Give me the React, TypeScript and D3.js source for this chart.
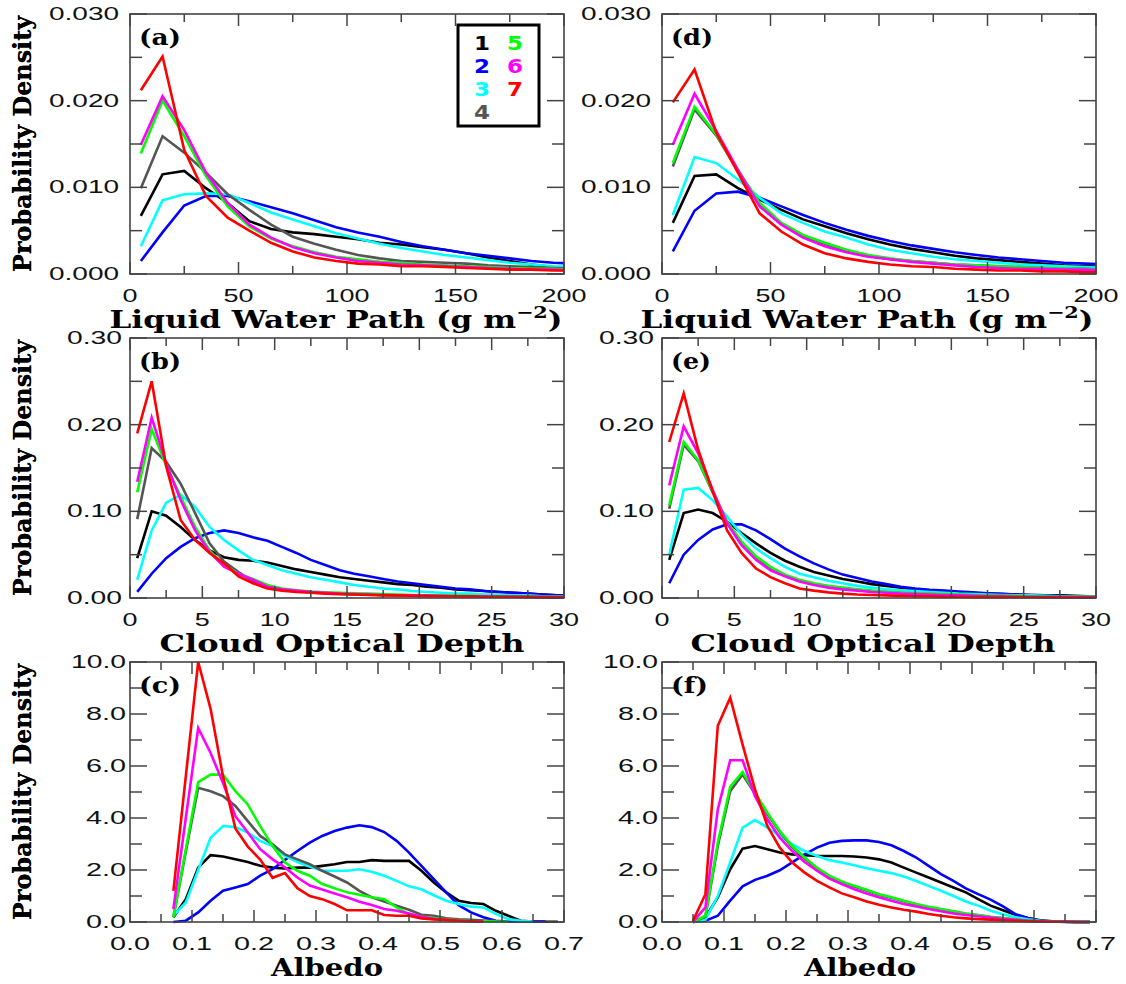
import React from 'react';
import * as d3 from 'd3';

// ---------------- DATA ----------------
const seriesNames = ['1', '2', '3', '4', '5', '6', '7'];
const seriesColors = ['#000000', '#0000ff', '#00ffff', '#555555', '#00ff00', '#ff00ff', '#ff0000'];

const lwpBins = [5, 15, 25, 35, 45, 55, 65, 75, 85, 95, 105, 115, 125, 135, 145, 155, 165, 175, 185, 195, 205];
const codBins = [0.5, 1.5, 2.5, 3.5, 4.5, 5.5, 6.5, 7.5, 8.5, 9.5, 10.5, 11.5, 12.5, 13.5, 14.5, 15.5, 16.5, 17.5, 18.5, 19.5, 20.5, 21.5, 22.5, 23.5, 24.5, 25.5, 26.5, 27.5, 28.5, 29.5, 30.5];
const albedoBinsC = [0.07, 0.09, 0.11, 0.13, 0.15, 0.17, 0.19, 0.21, 0.23, 0.25, 0.27, 0.29, 0.31, 0.33, 0.35, 0.37, 0.39, 0.41, 0.43, 0.45, 0.47, 0.49, 0.51, 0.53, 0.55, 0.57, 0.59, 0.61, 0.63, 0.65, 0.67, 0.69];
const albedoBinsF = [0.05, 0.07, 0.09, 0.11, 0.13, 0.15, 0.17, 0.19, 0.21, 0.23, 0.25, 0.27, 0.29, 0.31, 0.33, 0.35, 0.37, 0.39, 0.41, 0.43, 0.45, 0.47, 0.49, 0.51, 0.53, 0.55, 0.57, 0.59, 0.61, 0.63, 0.65, 0.67, 0.69];

// (a) LWP, left column
const a1 = [0.0067, 0.0115, 0.0119, 0.0099, 0.0082, 0.0061, 0.0052, 0.0048, 0.0046, 0.0043, 0.0040, 0.0036, 0.0034, 0.0031, 0.0028, 0.0024, 0.0019, 0.0015, 0.0011, 0.0008, 0.0007];
const a2 = [0.0015, 0.0048, 0.0079, 0.0090, 0.0090, 0.0084, 0.0077, 0.0070, 0.0062, 0.0054, 0.0048, 0.0043, 0.0037, 0.0032, 0.0028, 0.0024, 0.0021, 0.0018, 0.0015, 0.0013, 0.0012];
const a3 = [0.0032, 0.0085, 0.0092, 0.0093, 0.0092, 0.0082, 0.0071, 0.0063, 0.0055, 0.0047, 0.0041, 0.0035, 0.0030, 0.0026, 0.0022, 0.0019, 0.0016, 0.0013, 0.0011, 0.0009, 0.0008];
const a4 = [0.0099, 0.0159, 0.0140, 0.0117, 0.0092, 0.0074, 0.0057, 0.0043, 0.0035, 0.0028, 0.0022, 0.0018, 0.0015, 0.0014, 0.0013, 0.0012, 0.0010, 0.0009, 0.0008, 0.0007, 0.0006];
const a5 = [0.0139, 0.0200, 0.0159, 0.0113, 0.0078, 0.0055, 0.0041, 0.0032, 0.0025, 0.0020, 0.0017, 0.0014, 0.0013, 0.0011, 0.0010, 0.0009, 0.0008, 0.0007, 0.0006, 0.0006, 0.0005];
const a6 = [0.0149, 0.0205, 0.0166, 0.0117, 0.0082, 0.0057, 0.0042, 0.0031, 0.0024, 0.0019, 0.0015, 0.0013, 0.0011, 0.0010, 0.0009, 0.0008, 0.0007, 0.0006, 0.0005, 0.0005, 0.0004];
const a7 = [0.0212, 0.0251, 0.0143, 0.0090, 0.0065, 0.0050, 0.0036, 0.0026, 0.0019, 0.0015, 0.0012, 0.0011, 0.0009, 0.0009, 0.0008, 0.0007, 0.0006, 0.0005, 0.0005, 0.0004, 0.0004];

// (d) LWP, right column
const d1 = [0.0059, 0.0113, 0.0115, 0.0099, 0.0086, 0.0074, 0.0063, 0.0055, 0.0047, 0.0040, 0.0034, 0.0029, 0.0025, 0.0021, 0.0018, 0.0016, 0.0014, 0.0012, 0.0010, 0.0009, 0.0008];
const d2 = [0.0026, 0.0073, 0.0093, 0.0095, 0.0088, 0.0078, 0.0068, 0.0059, 0.0051, 0.0044, 0.0038, 0.0033, 0.0029, 0.0025, 0.0022, 0.0019, 0.0017, 0.0015, 0.0013, 0.0012, 0.0011];
const d3s = [0.0068, 0.0135, 0.0128, 0.0109, 0.0088, 0.0070, 0.0059, 0.0049, 0.0042, 0.0034, 0.0028, 0.0024, 0.0020, 0.0017, 0.0015, 0.0013, 0.0011, 0.0010, 0.0009, 0.0008, 0.0007];
const d4 = [0.0124, 0.0190, 0.0160, 0.0119, 0.0081, 0.0058, 0.0044, 0.0035, 0.0027, 0.0021, 0.0017, 0.0015, 0.0013, 0.0011, 0.0010, 0.0009, 0.0008, 0.0007, 0.0006, 0.0006, 0.0005];
const d5 = [0.0128, 0.0193, 0.0161, 0.0120, 0.0082, 0.0059, 0.0045, 0.0036, 0.0028, 0.0022, 0.0018, 0.0015, 0.0013, 0.0011, 0.0010, 0.0009, 0.0008, 0.0007, 0.0006, 0.0006, 0.0005];
const d6 = [0.0149, 0.0208, 0.0165, 0.0120, 0.0078, 0.0057, 0.0042, 0.0032, 0.0025, 0.0020, 0.0017, 0.0014, 0.0012, 0.0010, 0.0008, 0.0007, 0.0006, 0.0006, 0.0005, 0.0005, 0.0004];
const d7 = [0.0198, 0.0236, 0.0163, 0.0117, 0.0070, 0.0049, 0.0034, 0.0024, 0.0018, 0.0014, 0.0011, 0.0009, 0.0008, 0.0006, 0.0005, 0.0004, 0.0004, 0.0003, 0.0003, 0.0002, 0.0002];

// (b) COD, left column
const b1 = [0.046, 0.100, 0.095, 0.082, 0.067, 0.055, 0.047, 0.044, 0.043, 0.041, 0.037, 0.033, 0.030, 0.027, 0.024, 0.022, 0.020, 0.018, 0.016, 0.015, 0.013, 0.012, 0.010, 0.009, 0.008, 0.007, 0.006, 0.005, 0.004, 0.003, 0.003];
const b2 = [0.007, 0.028, 0.046, 0.059, 0.069, 0.075, 0.078, 0.075, 0.070, 0.066, 0.059, 0.052, 0.044, 0.038, 0.032, 0.028, 0.025, 0.022, 0.019, 0.017, 0.015, 0.013, 0.011, 0.010, 0.008, 0.007, 0.006, 0.005, 0.004, 0.003, 0.003];
const b3 = [0.021, 0.078, 0.110, 0.119, 0.105, 0.082, 0.067, 0.055, 0.044, 0.038, 0.032, 0.028, 0.024, 0.021, 0.018, 0.015, 0.013, 0.011, 0.010, 0.008, 0.007, 0.006, 0.005, 0.005, 0.004, 0.004, 0.003, 0.003, 0.002, 0.002, 0.002];
const b4 = [0.091, 0.173, 0.157, 0.132, 0.098, 0.063, 0.042, 0.030, 0.019, 0.013, 0.010, 0.008, 0.007, 0.006, 0.005, 0.0045, 0.004, 0.0035, 0.003, 0.003, 0.0025, 0.0025, 0.002, 0.002, 0.002, 0.0015, 0.0015, 0.0015, 0.001, 0.001, 0.001];
const b5 = [0.122, 0.195, 0.153, 0.117, 0.082, 0.055, 0.038, 0.028, 0.022, 0.015, 0.011, 0.009, 0.0075, 0.0065, 0.006, 0.0055, 0.005, 0.0045, 0.004, 0.0035, 0.003, 0.003, 0.0025, 0.0025, 0.002, 0.002, 0.002, 0.0015, 0.0015, 0.0015, 0.0015];
const b6 = [0.134, 0.208, 0.155, 0.113, 0.078, 0.053, 0.036, 0.028, 0.021, 0.013, 0.010, 0.0085, 0.007, 0.006, 0.005, 0.0045, 0.004, 0.0035, 0.003, 0.003, 0.0025, 0.0025, 0.002, 0.002, 0.002, 0.0015, 0.0015, 0.0015, 0.001, 0.001, 0.001];
const b7 = [0.190, 0.250, 0.152, 0.090, 0.067, 0.052, 0.040, 0.025, 0.017, 0.011, 0.0085, 0.007, 0.006, 0.005, 0.0045, 0.004, 0.0035, 0.003, 0.003, 0.0025, 0.0025, 0.002, 0.002, 0.002, 0.0015, 0.0015, 0.0015, 0.001, 0.001, 0.001, 0.001];

// (e) COD, right column
const e1 = [0.044, 0.098, 0.102, 0.098, 0.088, 0.075, 0.063, 0.052, 0.043, 0.036, 0.030, 0.026, 0.022, 0.019, 0.016, 0.014, 0.012, 0.010, 0.009, 0.008, 0.006, 0.0055, 0.005, 0.0045, 0.004, 0.0035, 0.003, 0.003, 0.0025, 0.002, 0.002];
const e2 = [0.017, 0.050, 0.067, 0.079, 0.085, 0.085, 0.078, 0.068, 0.057, 0.048, 0.040, 0.033, 0.027, 0.023, 0.019, 0.016, 0.013, 0.011, 0.0095, 0.0085, 0.0075, 0.0065, 0.0055, 0.0048, 0.004, 0.0035, 0.003, 0.0025, 0.002, 0.002, 0.002];
const e3 = [0.050, 0.125, 0.127, 0.113, 0.094, 0.073, 0.057, 0.046, 0.036, 0.028, 0.024, 0.020, 0.017, 0.014, 0.012, 0.010, 0.009, 0.008, 0.007, 0.006, 0.005, 0.0045, 0.004, 0.0035, 0.003, 0.003, 0.0025, 0.002, 0.002, 0.002, 0.002];
const e4 = [0.103, 0.177, 0.158, 0.122, 0.087, 0.064, 0.047, 0.035, 0.026, 0.020, 0.016, 0.013, 0.011, 0.0095, 0.008, 0.007, 0.006, 0.005, 0.0045, 0.004, 0.0035, 0.003, 0.003, 0.0025, 0.002, 0.002, 0.002, 0.0015, 0.0015, 0.0015, 0.0015];
const e5 = [0.107, 0.180, 0.159, 0.123, 0.088, 0.065, 0.048, 0.036, 0.027, 0.021, 0.017, 0.014, 0.012, 0.010, 0.0085, 0.007, 0.006, 0.0055, 0.005, 0.0045, 0.004, 0.0035, 0.003, 0.0025, 0.0025, 0.002, 0.002, 0.0015, 0.0015, 0.0015, 0.0015];
const e6 = [0.130, 0.198, 0.167, 0.125, 0.086, 0.061, 0.044, 0.032, 0.025, 0.019, 0.015, 0.012, 0.010, 0.0085, 0.007, 0.006, 0.005, 0.0045, 0.004, 0.0035, 0.003, 0.0025, 0.002, 0.002, 0.0015, 0.0015, 0.001, 0.001, 0.001, 0.001, 0.001];
const e7 = [0.180, 0.236, 0.171, 0.123, 0.078, 0.052, 0.034, 0.024, 0.017, 0.011, 0.0085, 0.0065, 0.005, 0.004, 0.0035, 0.003, 0.0025, 0.002, 0.002, 0.0015, 0.0015, 0.001, 0.001, 0.001, 0.001, 0.0008, 0.0008, 0.0006, 0.0006, 0.0005, 0.0005];

// (c) Albedo, left column (starting at 0.07)
const c1 = [0.18, 0.88, 2.09, 2.57, 2.52, 2.41, 2.31, 2.16, 2.09, 2.06, 2.09, 2.09, 2.16, 2.22, 2.31, 2.31, 2.38, 2.35, 2.35, 2.35, 1.97, 1.52, 1.14, 0.82, 0.73, 0.69, 0.43, 0.24, 0.05, 0.02, 0.01, 0.01];
const c2 = [0.0, 0.05, 0.37, 0.82, 1.2, 1.33, 1.46, 1.78, 2.03, 2.39, 2.73, 3.05, 3.31, 3.5, 3.63, 3.72, 3.65, 3.46, 3.12, 2.67, 2.16, 1.65, 1.14, 0.65, 0.37, 0.18, 0.05, 0.02, 0.02, 0.02, 0.02];
const c3 = [0.24, 0.75, 2.0, 3.24, 3.69, 3.65, 3.44, 3.12, 2.92, 2.54, 2.31, 2.13, 1.97, 1.97, 1.97, 2.03, 1.93, 1.78, 1.58, 1.37, 1.26, 1.03, 0.82, 0.69, 0.59, 0.56, 0.31, 0.11, 0.05, 0.02];
const c4 = [0.18, 2.7, 5.16, 5.03, 4.84, 4.46, 3.88, 3.31, 2.99, 2.6, 2.41, 2.22, 1.97, 1.75, 1.52, 1.2, 0.95, 0.79, 0.63, 0.47, 0.28, 0.24, 0.14, 0.1, 0.08, 0.06, 0.04];
const c5 = [0.18, 2.8, 5.38, 5.67, 5.67, 5.03, 4.52, 3.69, 2.92, 2.29, 1.97, 1.78, 1.46, 1.3, 1.14, 1.05, 0.95, 0.88, 0.56, 0.3, 0.2, 0.15, 0.1, 0.07, 0.04, 0.03, 0.02, 0.01];
const c6 = [0.5, 4.0, 7.46, 6.5, 5.35, 4.07, 3.44, 2.8, 2.41, 2.1, 1.71, 1.4, 1.25, 1.1, 0.95, 0.78, 0.65, 0.5, 0.43, 0.33, 0.2, 0.12, 0.08, 0.05, 0.03, 0.02];
const c7 = [1.2, 5.6, 10.0, 8.2, 5.6, 3.6, 2.9, 2.4, 1.7, 1.88, 1.3, 1.0, 0.88, 0.69, 0.45, 0.45, 0.45, 0.27, 0.24, 0.24, 0.14, 0.1, 0.08, 0.05, 0.03, 0.02];

// (f) Albedo, right column (starting at 0.05)
const f1 = [0.0, 0.18, 0.95, 2.03, 2.82, 2.92, 2.8, 2.67, 2.6, 2.57, 2.54, 2.54, 2.54, 2.52, 2.48, 2.41, 2.29, 2.09, 1.9, 1.71, 1.52, 1.33, 1.14, 0.88, 0.63, 0.45, 0.28, 0.15, 0.07, 0.03, 0.01, 0.0, 0.0];
const f2 = [0.0, 0.05, 0.24, 0.82, 1.37, 1.62, 1.78, 1.99, 2.29, 2.6, 2.86, 3.05, 3.12, 3.14, 3.14, 3.08, 2.95, 2.73, 2.48, 2.16, 1.84, 1.58, 1.29, 1.07, 0.86, 0.6, 0.3, 0.15, 0.05, 0.02, 0.0, 0.0, 0.0];
const f3 = [0.0, 0.09, 1.0, 2.29, 3.63, 3.92, 3.63, 3.31, 2.99, 2.73, 2.54, 2.38, 2.29, 2.18, 2.07, 1.97, 1.88, 1.75, 1.58, 1.39, 1.2, 1.0, 0.79, 0.63, 0.43, 0.3, 0.18, 0.1, 0.05, 0.02, 0.01, 0.0, 0.0];
const f4 = [0.0, 0.2, 2.92, 5.03, 5.67, 4.93, 4.15, 3.46, 2.88, 2.44, 2.05, 1.75, 1.53, 1.36, 1.21, 1.05, 0.93, 0.8, 0.67, 0.57, 0.48, 0.4, 0.32, 0.26, 0.19, 0.14, 0.09, 0.05, 0.03, 0.01, 0.01, 0.0, 0.0];
const f5 = [0.0, 0.24, 3.05, 5.2, 5.77, 4.97, 4.2, 3.5, 2.92, 2.48, 2.09, 1.78, 1.56, 1.39, 1.24, 1.07, 0.95, 0.82, 0.69, 0.59, 0.5, 0.41, 0.33, 0.27, 0.2, 0.15, 0.1, 0.06, 0.03, 0.01, 0.01, 0.0, 0.0];
const f6 = [0.0, 0.56, 4.33, 6.22, 6.22, 4.84, 3.95, 3.24, 2.73, 2.31, 1.97, 1.67, 1.46, 1.26, 1.1, 0.95, 0.82, 0.69, 0.6, 0.5, 0.41, 0.33, 0.27, 0.22, 0.17, 0.12, 0.08, 0.05, 0.03, 0.01, 0.01, 0.0, 0.0];
const f7 = [0.05, 1.07, 7.55, 8.63, 6.82, 5.1, 3.69, 2.86, 2.29, 1.9, 1.58, 1.33, 1.1, 0.95, 0.79, 0.66, 0.56, 0.47, 0.4, 0.31, 0.24, 0.18, 0.14, 0.11, 0.09, 0.07, 0.05, 0.03, 0.02, 0.01, 0.01, 0.0, 0.0];

// ---------------- LAYOUT ----------------
const PW = 434;
const PH = 260;
const colX = [130, 662];
const rowY = [14, 338, 662];

const tickFont = 'Liberation Sans, Arial, Helvetica, sans-serif';
const titleFont = 'DejaVu Serif, Liberation Serif, serif';
const axisColor = '#444444';

function labelWidth(s: string) {
  let w = 0;
  for (const ch of s) w += ch === '.' ? 10 : 15;
  return w;
}

function ticksOf(min: number, max: number, step: number) {
  const out: number[] = [];
  const n = Math.round((max - min) / step);
  for (let i = 0; i <= n; i++) out.push(min + i * step);
  return out;
}

type PanelProps = {
  id: string;
  x0: number; y0: number;
  xDomain: [number, number]; yDomain: [number, number];
  xMajor: number; xMinor: number; yMajor: number; yMinor: number;
  xFmt: (v: number) => string; yFmt: (v: number) => string;
  bins: number[]; series: number[][];
  label: string; labelW: number;
  yLabelGap: number;
  title: React.ReactNode; titleW: number; titleCx: number;
  legend?: boolean;
};

function Panel(p: PanelProps) {
  const x = d3.scaleLinear().domain(p.xDomain).range([p.x0, p.x0 + PW]);
  const y = d3.scaleLinear().domain(p.yDomain).range([p.y0 + PH, p.y0]);
  const line = d3.line<[number, number]>().x(d => x(d[0])).y(d => y(d[1]));
  const xt = ticksOf(p.xDomain[0], p.xDomain[1], p.xMinor);
  const yt = ticksOf(p.yDomain[0], p.yDomain[1], p.yMinor);
  const isMaj = (v: number, m: number) => Math.abs(v / m - Math.round(v / m)) < 1e-6;
  const bottom = p.y0 + PH;
  const right = p.x0 + PW;
  const clipId = 'clip-' + p.id;
  return (
    <g>
      <defs>
        <clipPath id={clipId}>
          <rect x={p.x0} y={p.y0 - 3} width={PW} height={PH + 6} />
        </clipPath>
      </defs>
      <g clipPath={`url(#${clipId})`}>
        {p.series.map((s, i) => (
          <path key={i} d={line(s.map((v, j) => [p.bins[j], v]) as [number, number][]) || ''}
            fill="none" stroke={seriesColors[i]} strokeWidth={2.6} strokeLinejoin="miter" />
        ))}
      </g>
      <rect x={p.x0} y={p.y0} width={PW} height={PH} fill="none" stroke={axisColor} strokeWidth={1.6} />
      {xt.map((v, i) => {
        const L = isMaj(v, p.xMajor) ? 12 : 8;
        const xx = x(v);
        return (
          <g key={'x' + i}>
            <line x1={xx} x2={xx} y1={bottom} y2={bottom - L} stroke={axisColor} strokeWidth={1.5} />
            <line x1={xx} x2={xx} y1={p.y0} y2={p.y0 + L} stroke={axisColor} strokeWidth={1.5} />
          </g>
        );
      })}
      {yt.map((v, i) => {
        const L = isMaj(v, p.yMajor) ? 17 : 12;
        const yy = y(v);
        return (
          <g key={'y' + i}>
            <line x1={p.x0} x2={p.x0 + L} y1={yy} y2={yy} stroke={axisColor} strokeWidth={1.5} />
            <line x1={right} x2={right - L} y1={yy} y2={yy} stroke={axisColor} strokeWidth={1.5} />
          </g>
        );
      })}
      {xt.filter(v => isMaj(v, p.xMajor)).map((v, i) => {
        const s = p.xFmt(v);
        return (
          <text key={'xl' + i} x={x(v)} y={bottom + 28} textAnchor="middle" fontFamily={tickFont}
            fontSize={19} fill="#111" textLength={labelWidth(s)} lengthAdjust="spacingAndGlyphs">{s}</text>
        );
      })}
      {yt.filter(v => isMaj(v, p.yMajor)).map((v, i) => {
        const s = p.yFmt(v);
        return (
          <text key={'yl' + i} x={p.x0 - p.yLabelGap} y={y(v) + 6} textAnchor="end" fontFamily={tickFont}
            fontSize={19} fill="#111" textLength={labelWidth(s)} lengthAdjust="spacingAndGlyphs">{s}</text>
        );
      })}
      <text x={p.x0 + 9} y={p.y0 + 31} fontFamily={titleFont} fontWeight="bold" fontSize={22} fill="#000"
        textLength={p.labelW} lengthAdjust="spacingAndGlyphs">{p.label}</text>
      <text x={p.titleCx} y={bottom + 54} textAnchor="middle" fontFamily={titleFont} fontWeight="bold"
        fontSize={24} fill="#000" textLength={p.titleW} lengthAdjust="spacingAndGlyphs">{p.title}</text>
      <text transform={`translate(31,${p.y0 + PH / 2}) rotate(-90)`} textAnchor="middle" fontFamily={titleFont}
        fontWeight="bold" fontSize={24} fill="#000" textLength={256} lengthAdjust="spacingAndGlyphs">Probability Density</text>
      {p.legend && (
        <g>
          <rect x={p.x0 + 328} y={p.y0 + 11} width={81} height={101} fill="#fff" stroke="#000" strokeWidth={3} />
          {seriesNames.map((n, i) => {
            const col = i < 4 ? 0 : 1;
            const row = i < 4 ? i : i - 4;
            return (
              <text key={n} x={p.x0 + 352 + col * 33} y={p.y0 + 36 + row * 23} textAnchor="middle"
                fontFamily="DejaVu Sans, Arial, sans-serif" fontWeight="bold" fontSize={19.5}
                textLength={16} lengthAdjust="spacingAndGlyphs" fill={seriesColors[i]}>{n}</text>
            );
          })}
        </g>
      )}
    </g>
  );
}

const lwpTitle = (
  <>
    Liquid Water Path (g m<tspan dy={-10} fontSize={16}>−2</tspan><tspan dy={10}>)</tspan>
  </>
);

export default function App() {
  const f3d = d3.format('.3f');
  const f2d = d3.format('.2f');
  const f1d = d3.format('.1f');
  const fint = d3.format('d');
  const lwpCommon = {
    xDomain: [0, 200] as [number, number], yDomain: [0, 0.03] as [number, number],
    xMajor: 50, xMinor: 25, yMajor: 0.01, yMinor: 0.005, xFmt: fint, yFmt: f3d,
    bins: lwpBins, yLabelGap: 11, title: lwpTitle, titleW: 453,
  };
  const codCommon = {
    xDomain: [0, 30] as [number, number], yDomain: [0, 0.3] as [number, number],
    xMajor: 5, xMinor: 2.5, yMajor: 0.1, yMinor: 0.05, xFmt: fint, yFmt: f2d,
    bins: codBins, yLabelGap: 8, title: 'Cloud Optical Depth', titleW: 365,
  };
  const albCommon = {
    xDomain: [0, 0.7] as [number, number], yDomain: [0, 10] as [number, number],
    xMajor: 0.1, xMinor: 0.05, yMajor: 2, yMinor: 1, xFmt: f1d, yFmt: f1d,
    yLabelGap: 4, title: 'Albedo', titleW: 112,
  };
  return (
    <svg width={1126} height={984} style={{ position: 'absolute', left: 0, top: 0, background: '#fff' }}>
      <rect x={0} y={0} width={1126} height={984} fill="#fff" />
      <Panel {...lwpCommon} id="a" x0={colX[0]} y0={rowY[0]} series={[a1, a2, a3, a4, a5, a6, a7]} label="(a)" labelW={42} titleCx={336} legend />
      <Panel {...lwpCommon} id="d" x0={colX[1]} y0={rowY[0]} series={[d1, d2, d3s, d4, d5, d6, d7]} label="(d)" labelW={42} titleCx={867} />
      <Panel {...codCommon} id="b" x0={colX[0]} y0={rowY[1]} series={[b1, b2, b3, b4, b5, b6, b7]} label="(b)" labelW={42} titleCx={342} />
      <Panel {...codCommon} id="e" x0={colX[1]} y0={rowY[1]} series={[e1, e2, e3, e4, e5, e6, e7]} label="(e)" labelW={40} titleCx={873} />
      <Panel {...albCommon} id="c" bins={albedoBinsC} x0={colX[0]} y0={rowY[2]} series={[c1, c2, c3, c4, c5, c6, c7]} label="(c)" labelW={42} titleCx={327} />
      <Panel {...albCommon} id="f" bins={albedoBinsF} x0={colX[1]} y0={rowY[2]} series={[f1, f2, f3, f4, f5, f6, f7]} label="(f)" labelW={37} titleCx={860} />
    </svg>
  );
}
